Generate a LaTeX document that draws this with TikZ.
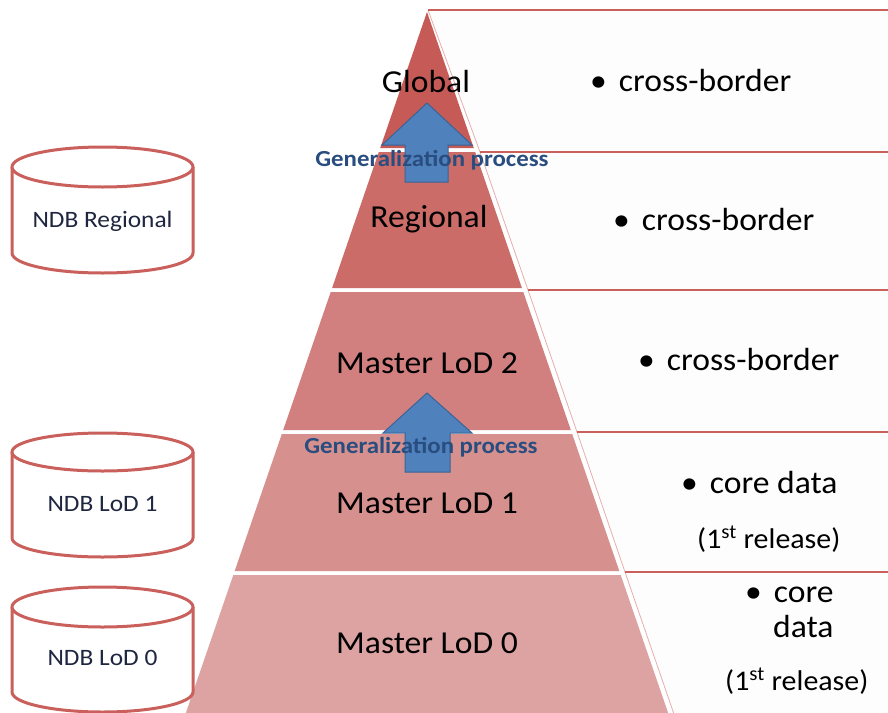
\documentclass[tikz,border=0pt]{standalone}
\usepackage{fontspec}
\setmainfont[FakeStretch=1.05]{Carlito}
\newfontfamily\narrowlabel[FakeStretch=1.08]{Carlito}
\definecolor{bandA}{HTML}{C55A57}
\definecolor{bandB}{HTML}{CB6C68}
\definecolor{bandC}{HTML}{D1807F}
\definecolor{bandD}{HTML}{D6908E}
\definecolor{bandE}{HTML}{DDA3A2}
\definecolor{linered}{HTML}{C9605C}
\definecolor{edgered}{HTML}{E6AEAC}
\definecolor{panelfill}{HTML}{FDFDFD}
\definecolor{arrowblue}{HTML}{4F81BD}
\definecolor{arrowedge}{HTML}{3A6496}
\definecolor{gentext}{HTML}{2A4D80}
\definecolor{ndbtext}{HTML}{1E2640}
\begin{document}
\begin{tikzpicture}[x=1pt,y=-1pt,
  band/.style={draw=none},
  panel/.style={fill=panelfill,draw=none},
  hline/.style={draw=linered,line width=2.5pt},
  sline/.style={draw=edgered,line width=0.8pt},
  genarrow/.style={fill=arrowblue,draw=arrowedge,line width=1pt,line join=miter},
  cyl/.style={draw=linered,line width=3pt,fill=white},
  level/.style={anchor=base,inner sep=0pt,font=\fontsize{32}{36}\selectfont},
  item/.style={anchor=base west,inner sep=0pt,font=\fontsize{32}{36}\selectfont},
  release/.style={anchor=base west,inner sep=0pt,font=\fontsize{28.5}{32}\selectfont},
  gen/.style={anchor=base,inner sep=0pt,text=gentext,font=\narrowlabel\fontsize{23}{26}\selectfont\bfseries},
  ndb/.style={anchor=base,inner sep=0pt,text=ndbtext,font=\narrowlabel\fontsize{23.5}{26}\selectfont}]
\useasboundingbox (0,0) rectangle (888,712);
\clip (0,0) rectangle (888,712);
% right panel rows
\path[panel] (428,10) -- (900,10) -- (900,152) -- (480,152) -- cycle;
\path[panel] (480,152) -- (900,152) -- (900,290) -- (528,290) -- cycle;
\path[panel] (528,290) -- (900,290) -- (900,432) -- (577,432) -- cycle;
\path[panel] (577,432) -- (900,432) -- (900,572) -- (625,572) -- cycle;
\path[panel] (625,572) -- (900,572) -- (900,720) -- (676,720) -- cycle;
\coordinate (p0) at (428,10);
\coordinate (p1) at (480,152);
\coordinate (p2) at (528,290);
\coordinate (p3) at (577,432);
\coordinate (p4) at (625,572);
\coordinate (p5) at (676,720);
\draw[sline] (p0) -- (p1) -- (p2) -- (p3) -- (p4) -- (p5);
\draw[hline] (p0) -- (900,10);
\draw[hline] (p1) -- (900,152);
\draw[hline] (p2) -- (900,290);
\draw[hline] (p3) -- (900,432);
\draw[hline] (p4) -- (900,572);
% pyramid bands
\fill[bandA] (427,12) -- (473.8,148) -- (380.2,148) -- cycle;
\fill[bandB] (378.8,152) -- (475.2,152) -- (521.9,288) -- (332.1,288) -- cycle;
\fill[bandC] (330.7,292) -- (523.3,292) -- (570.8,430) -- (283.2,430) -- cycle;
\fill[bandD] (281.8,434) -- (572.2,434) -- (619.3,571) -- (234.7,571) -- cycle;
\fill[bandE] (233.3,575) -- (620.7,575) -- (668.5,714) -- (185.5,714) -- cycle;
% arrows
\draw[genarrow] (427,103) -- (472,145) -- (448,145) -- (448,182) -- (405,182) -- (405,145) -- (382,145) -- cycle;
\draw[genarrow] (427,393) -- (472,433) -- (450,433) -- (450,472) -- (405,472) -- (405,433) -- (383,433) -- cycle;
% level labels
\node[level] (global) at (426,92) {Global};
\node[level] (regional) at (429,227) {Regional};
\node[level] (lod2) at (427,373) {Master LoD 2};
\node[level] (lod1) at (427,513) {Master LoD 1};
\node[level] (lod0) at (427,653) {Master LoD 0};
\node[gen] (gen1) at (432,166) {Generalization process};
\node[gen] (gen2) at (421,453) {Generalization process};
% panel texts
\node[item] (t1) at (590,91) {•\hspace{12pt}cross-border};
\node[item] (t2) at (613,230) {•\hspace{12pt}cross-border};
\node[item] (t3) at (638,370) {•\hspace{12pt}cross-border};
\node[item] (t4) at (681,493) {•\hspace{12pt}core data};
\node[release] (t4b) at (697,548) {(1\textsuperscript{st} release)};
\node[item] (t5) at (745,602) {•\hspace{12pt}core};
\node[item] (t5b) at (773,637) {data};
\node[release] (t5c) at (725,690) {(1\textsuperscript{st} release)};
% cylinders
\draw[cyl] (12,167) -- (12,253) arc[start angle=180,end angle=0,x radius=90.5,y radius=20] -- (193,167);
\draw[cyl] (102.5,167) ellipse[x radius=90.5,y radius=20];
\draw[cyl] (12,452) -- (12,538) arc[start angle=180,end angle=0,x radius=90.5,y radius=19] -- (193,452);
\draw[cyl] (102.5,452) ellipse[x radius=90.5,y radius=19];
\draw[cyl] (12,607) -- (12,692) arc[start angle=180,end angle=0,x radius=90.5,y radius=20] -- (193,607);
\draw[cyl] (102.5,607) ellipse[x radius=90.5,y radius=20];
\node[ndb] (ndbR) at (102.5,227) {NDB Regional};
\node[ndb] (ndb1) at (102.5,511) {NDB LoD 1};
\node[ndb] (ndb0) at (102.5,665) {NDB LoD 0};
\end{tikzpicture}
\end{document}
